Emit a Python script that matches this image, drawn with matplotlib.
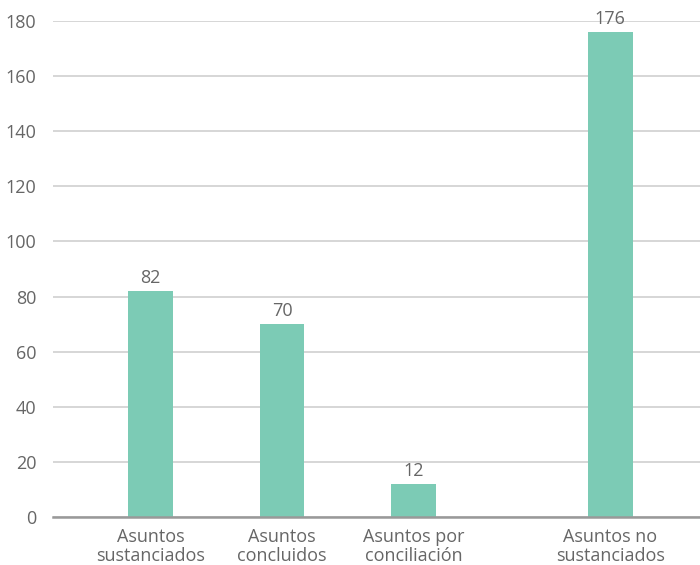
import matplotlib.pyplot as plt

categories = ["Asuntos\nsustanciados", "Asuntos\nconcluidos", "Asuntos por\nconciliación", "Asuntos no\nsustanciados"]
values = [82, 70, 12, 176]
positions = [0, 1, 2, 3.5]
yticks = [0, 20, 40, 60, 80, 100, 120, 140, 160, 180]

plt.rcParams['font.family'] = ['Open Sans', 'DejaVu Sans']
textcolor = '#666666'

fig = plt.figure(figsize=(7, 5.65), dpi=100)
ax = fig.add_axes([53/700, 48/565, 647/700, 496/565])

ax.bar(positions, values, width=0.34, color='#7ccbb5', zorder=3)
for x, v in zip(positions, values):
    ax.text(x, v + 1.5, str(v), ha='center', va='bottom', fontsize=13, color=textcolor, clip_on=False)

ax.set_xlim(-0.745, 4.184)
ax.set_ylim(0, 180)
ax.set_yticks(yticks)
ax.set_xticks(positions)
ax.set_xticklabels(categories, linespacing=1.05)
ax.tick_params(axis='both', length=0, labelsize=13, colors=textcolor)
ax.tick_params(axis='y', pad=12)
ax.tick_params(axis='x', pad=8)
ax.yaxis.grid(True, color='#d0d0d0', linewidth=1.2, zorder=0)
for s in ['top', 'right', 'left']:
    ax.spines[s].set_visible(False)
ax.spines['bottom'].set_color('#999999')
ax.spines['bottom'].set_linewidth(1.8)
ax.spines['bottom'].set_zorder(4)

plt.savefig('out.png')
